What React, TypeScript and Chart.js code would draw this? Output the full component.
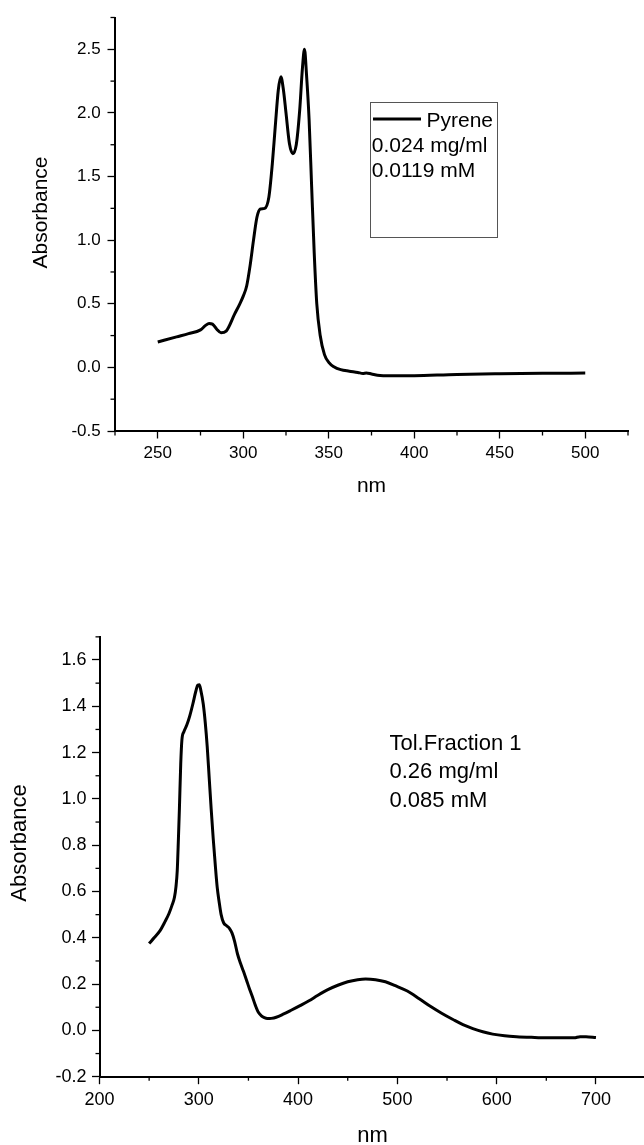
import React, { useEffect, useRef } from "react";
import { Chart, registerables } from "chart.js";

Chart.register(...registerables);

// ---------- Top chart: Pyrene ----------
const pyreneWavelength = [
  250, 261, 268, 275, 278, 280, 282, 284.5, 287, 290, 295, 298, 300, 302, 304,
  306, 308, 310, 312.5, 315, 317, 318.7, 320.5, 322, 323.5, 325, 327, 329, 331,
  333, 334.6, 335.8, 337, 338.5, 340, 341.5, 343, 345, 347.5, 350, 353, 357,
  362, 367, 370, 372, 375, 380, 390, 400, 425, 450, 475, 500,
];
const pyreneAbsorbance = [
  0.2, 0.24, 0.265, 0.295, 0.33, 0.345, 0.34, 0.3, 0.272, 0.285, 0.42, 0.5,
  0.56, 0.64, 0.8, 1.0, 1.18, 1.245, 1.25, 1.34, 1.6, 1.89, 2.18, 2.285, 2.18,
  2.0, 1.76, 1.68, 1.75, 2.02, 2.35, 2.5, 2.3, 1.95, 1.42, 0.9, 0.5, 0.25, 0.1,
  0.04, 0.005, -0.018, -0.03, -0.04, -0.048, -0.044, -0.052, -0.063, -0.066,
  -0.065, -0.055, -0.05, -0.047, -0.045,
];
const topXTicks = [250, 300, 350, 400, 450, 500];
const topXMinor = [225, 275, 325, 375, 425, 475, 525];
const topYTicks = [-0.5, 0, 0.5, 1, 1.5, 2, 2.5];
const topYMinor = [-0.25, 0.25, 0.75, 1.25, 1.75, 2.25, 2.75];
const topLegendLines = ["0.024 mg/ml", "0.0119 mM"];

// ---------- Bottom chart: Tol.Fraction 1 ----------
const fractionWavelength = [
  250, 255, 261, 266, 270, 273, 275.5, 277, 278.3, 279.5, 280.5, 281.8, 283, 285,
  288, 291, 294, 297, 299, 300.5, 302, 304.5, 306.5, 308.5, 310.5, 312.5, 314.5,
  316.5, 318.5, 320.5, 322.5, 325, 328, 331, 333.5, 336, 339, 342, 345, 348, 351,
  354, 357, 360, 363, 366, 369, 373, 378, 385, 393, 402, 411, 420, 430, 440, 450,
  460, 468, 478, 488, 498, 510, 522, 534, 545, 556, 566, 576, 586, 596, 608, 620,
  635, 650, 665, 678, 684, 690, 700,
];
const fractionAbsorbance = [
  0.375, 0.4, 0.431, 0.47, 0.505, 0.54, 0.575, 0.62, 0.69, 0.83, 0.96, 1.15,
  1.255, 1.29, 1.32, 1.36, 1.41, 1.465, 1.492, 1.493, 1.47, 1.41, 1.33, 1.225,
  1.09, 0.955, 0.83, 0.72, 0.62, 0.555, 0.5, 0.465, 0.452, 0.44, 0.42, 0.386,
  0.33, 0.29, 0.255, 0.218, 0.18, 0.145, 0.108, 0.078, 0.063, 0.055, 0.051,
  0.052, 0.057, 0.07, 0.087, 0.107, 0.128, 0.152, 0.176, 0.195, 0.21, 0.219,
  0.222, 0.219, 0.21, 0.193, 0.17, 0.137, 0.102, 0.073, 0.047, 0.025, 0.008,
  -0.006, -0.016, -0.023, -0.027, -0.03, -0.032, -0.032, -0.032, -0.027, -0.027,
  -0.031,
];
const botXTicks = [200, 300, 400, 500, 600, 700];
const botXMinor = [250, 350, 450, 550, 650, 750];
const botYTicks = [-0.2, 0, 0.2, 0.4, 0.6, 0.8, 1.0, 1.2, 1.4, 1.6];
const botYMinor = [-0.1, 0.1, 0.3, 0.5, 0.7, 0.9, 1.1, 1.3, 1.5, 1.7];
const botTextLines = ["Tol.Fraction 1", "0.26 mg/ml", "0.085 mM"];

const FAMILY = "'Liberation Sans', Arial, Helvetica, sans-serif";

type OverlayCfg = {
  minorX: number[];
  minorY: number[];
  minorLen: number;
  tickWidth: number;
  yTitle: { text: string; x: number; y: number; size: number };
  legend?: {
    box: [number, number, number, number];
    lineX1: number;
    lineX2: number;
    lineY: number;
    labelX: number;
    labelBase: number;
  };
  lines: { texts: string[]; x: number; bases: number[]; size: number };
};

function makeOverlay(cfg: OverlayCfg) {
  return {
    id: "overlay",
    afterDraw(chart: any) {
      const ctx: CanvasRenderingContext2D = chart.ctx;
      const area = chart.chartArea;
      const xs = chart.scales.x;
      const ys = chart.scales.y;
      ctx.save();
      ctx.strokeStyle = "#000";
      ctx.lineWidth = cfg.tickWidth;
      cfg.minorX.forEach((v) => {
        const px = xs.getPixelForValue(v);
        ctx.beginPath();
        ctx.moveTo(px, area.bottom);
        ctx.lineTo(px, area.bottom + cfg.minorLen);
        ctx.stroke();
      });
      cfg.minorY.forEach((v) => {
        const py = ys.getPixelForValue(v);
        ctx.beginPath();
        ctx.moveTo(area.left, py);
        ctx.lineTo(area.left - cfg.minorLen, py);
        ctx.stroke();
      });
      ctx.restore();

      // y title
      ctx.save();
      ctx.fillStyle = "#000";
      ctx.font = `${cfg.yTitle.size}px ${FAMILY}`;
      ctx.translate(cfg.yTitle.x, cfg.yTitle.y);
      ctx.rotate(-Math.PI / 2);
      ctx.textAlign = "center";
      ctx.textBaseline = "middle";
      ctx.fillText(cfg.yTitle.text, 0, 0);
      ctx.restore();

      // legend box
      ctx.save();
      ctx.fillStyle = "#000";
      ctx.textAlign = "left";
      ctx.textBaseline = "alphabetic";
      ctx.font = `${cfg.lines.size}px ${FAMILY}`;
      if (cfg.legend) {
        const lg = cfg.legend;
        const ds = chart.data.datasets[0];
        ctx.strokeStyle = "#555";
        ctx.lineWidth = 1;
        ctx.strokeRect(lg.box[0], lg.box[1], lg.box[2], lg.box[3]);
        ctx.strokeStyle = ds.borderColor;
        ctx.lineWidth = ds.borderWidth;
        ctx.beginPath();
        ctx.moveTo(lg.lineX1, lg.lineY);
        ctx.lineTo(lg.lineX2, lg.lineY);
        ctx.stroke();
        ctx.fillText(ds.label, lg.labelX, lg.labelBase);
      }
      cfg.lines.texts.forEach((t, i) => {
        ctx.fillText(t, cfg.lines.x, cfg.lines.bases[i]);
      });
      ctx.restore();
    },
  };
}

function axisOpts(p: {
  min: number;
  max: number;
  ticks: number[];
  fmt: (v: number) => string;
  size: number;
  padding: number;
  fitW?: number;
  fitH?: number;
  title?: { text: string; size: number; padBottom: number };
}) {
  return {
    type: "linear" as const,
    min: p.min,
    max: p.max,
    afterBuildTicks: (s: any) => {
      s.ticks = p.ticks.map((value) => ({ value }));
    },
    afterFit: (s: any) => {
      if (p.fitW !== undefined) s.width = p.fitW;
      if (p.fitH !== undefined) s.height = p.fitH;
    },
    ticks: {
      color: "#000",
      font: { family: FAMILY, size: p.size },
      padding: p.padding,
      autoSkip: false,
      maxRotation: 0,
      callback: (v: any) => p.fmt(Number(v)),
    },
    grid: {
      display: true,
      drawOnChartArea: false,
      drawTicks: true,
      tickLength: 7.5,
      tickWidth: 1.3,
      tickColor: "#000",
    },
    border: { display: true, color: "#000", width: 2 },
    title: p.title
      ? {
          display: true,
          text: p.title.text,
          color: "#000",
          font: { family: FAMILY, size: p.title.size },
          padding: { top: 0, bottom: p.title.padBottom },
        }
      : { display: false },
  };
}

export default function App() {
  const topRef = useRef<HTMLCanvasElement>(null);
  const botRef = useRef<HTMLCanvasElement>(null);

  useEffect(() => {
    const top = new Chart(topRef.current as HTMLCanvasElement, {
      type: "line",
      data: {
        datasets: [
          {
            label: "Pyrene",
            data: pyreneWavelength.map((x, i) => ({ x, y: pyreneAbsorbance[i] })),
            borderColor: "#000",
            borderWidth: 3,
            pointRadius: 0,
            cubicInterpolationMode: "monotone",
            fill: false,
          },
        ],
      },
      options: {
        responsive: false,
        animation: false,
        devicePixelRatio: 1,
        layout: { padding: { left: 0, top: 17.5, right: 16, bottom: 0 } },
        plugins: { legend: { display: false }, tooltip: { enabled: false } },
        scales: {
          x: axisOpts({
            min: 225,
            max: 525,
            ticks: topXTicks,
            fmt: (v) => String(v),
            size: 17,
            padding: 4.5,
            fitH: 69,
            title: { text: "nm", size: 21, padBottom: 1.4 },
          }),
          y: axisOpts({
            min: -0.5,
            max: 2.75,
            ticks: topYTicks,
            fmt: (v) => v.toFixed(1),
            size: 17,
            padding: 6.8,
            fitW: 115,
          }),
        },
      } as any,
      plugins: [
        makeOverlay({
          minorX: topXMinor,
          minorY: topYMinor,
          minorLen: 4.5,
          tickWidth: 1.3,
          yTitle: { text: "Absorbance", x: 41, y: 212.5, size: 21 },
          legend: {
            box: [370.5, 102.5, 127, 135],
            lineX1: 373,
            lineX2: 421,
            lineY: 119,
            labelX: 426.5,
            labelBase: 126.5,
          },
          lines: { texts: topLegendLines, x: 371.8, bases: [151.5, 176.5], size: 21 },
        }),
      ],
    });

    const bot = new Chart(botRef.current as HTMLCanvasElement, {
      type: "line",
      data: {
        datasets: [
          {
            label: "Tol.Fraction 1",
            data: fractionWavelength.map((x, i) => ({ x, y: fractionAbsorbance[i] })),
            borderColor: "#000",
            borderWidth: 3,
            pointRadius: 0,
            cubicInterpolationMode: "monotone",
            fill: false,
          },
        ],
      },
      options: {
        responsive: false,
        animation: false,
        devicePixelRatio: 1,
        layout: { padding: { left: 0, top: 76.85, right: 14.4, bottom: 0 } },
        plugins: { legend: { display: false }, tooltip: { enabled: false } },
        scales: {
          x: axisOpts({
            min: 200,
            max: 750,
            ticks: botXTicks,
            fmt: (v) => String(v),
            size: 18,
            padding: 5.5,
            fitH: 83.3,
            title: { text: "nm", size: 22, padBottom: 10.8 },
          }),
          y: axisOpts({
            min: -0.2,
            max: 1.7,
            ticks: botYTicks,
            fmt: (v) => v.toFixed(1),
            size: 18,
            padding: 5.5,
            fitW: 99.5,
          }),
        },
      } as any,
      plugins: [
        makeOverlay({
          minorX: botXMinor,
          minorY: botYMinor,
          minorLen: 4,
          tickWidth: 1.3,
          yTitle: { text: "Absorbance", x: 20, y: 283, size: 22 },
          lines: { texts: botTextLines, x: 389.5, bases: [189.5, 218, 247], size: 22 },
        }),
      ],
    });

    return () => {
      top.destroy();
      bot.destroy();
    };
  }, []);

  return (
    <div
      style={{
        position: "absolute",
        left: 0,
        top: 0,
        width: 644,
        height: 1145,
        overflow: "hidden",
        background: "#fff",
      }}
    >
      <canvas
        ref={topRef}
        width={644}
        height={500}
        style={{ position: "absolute", left: 0, top: 0, display: "block" }}
      />
      <canvas
        ref={botRef}
        width={660}
        height={600}
        style={{ position: "absolute", left: 0, top: 560, display: "block" }}
      />
    </div>
  );
}
